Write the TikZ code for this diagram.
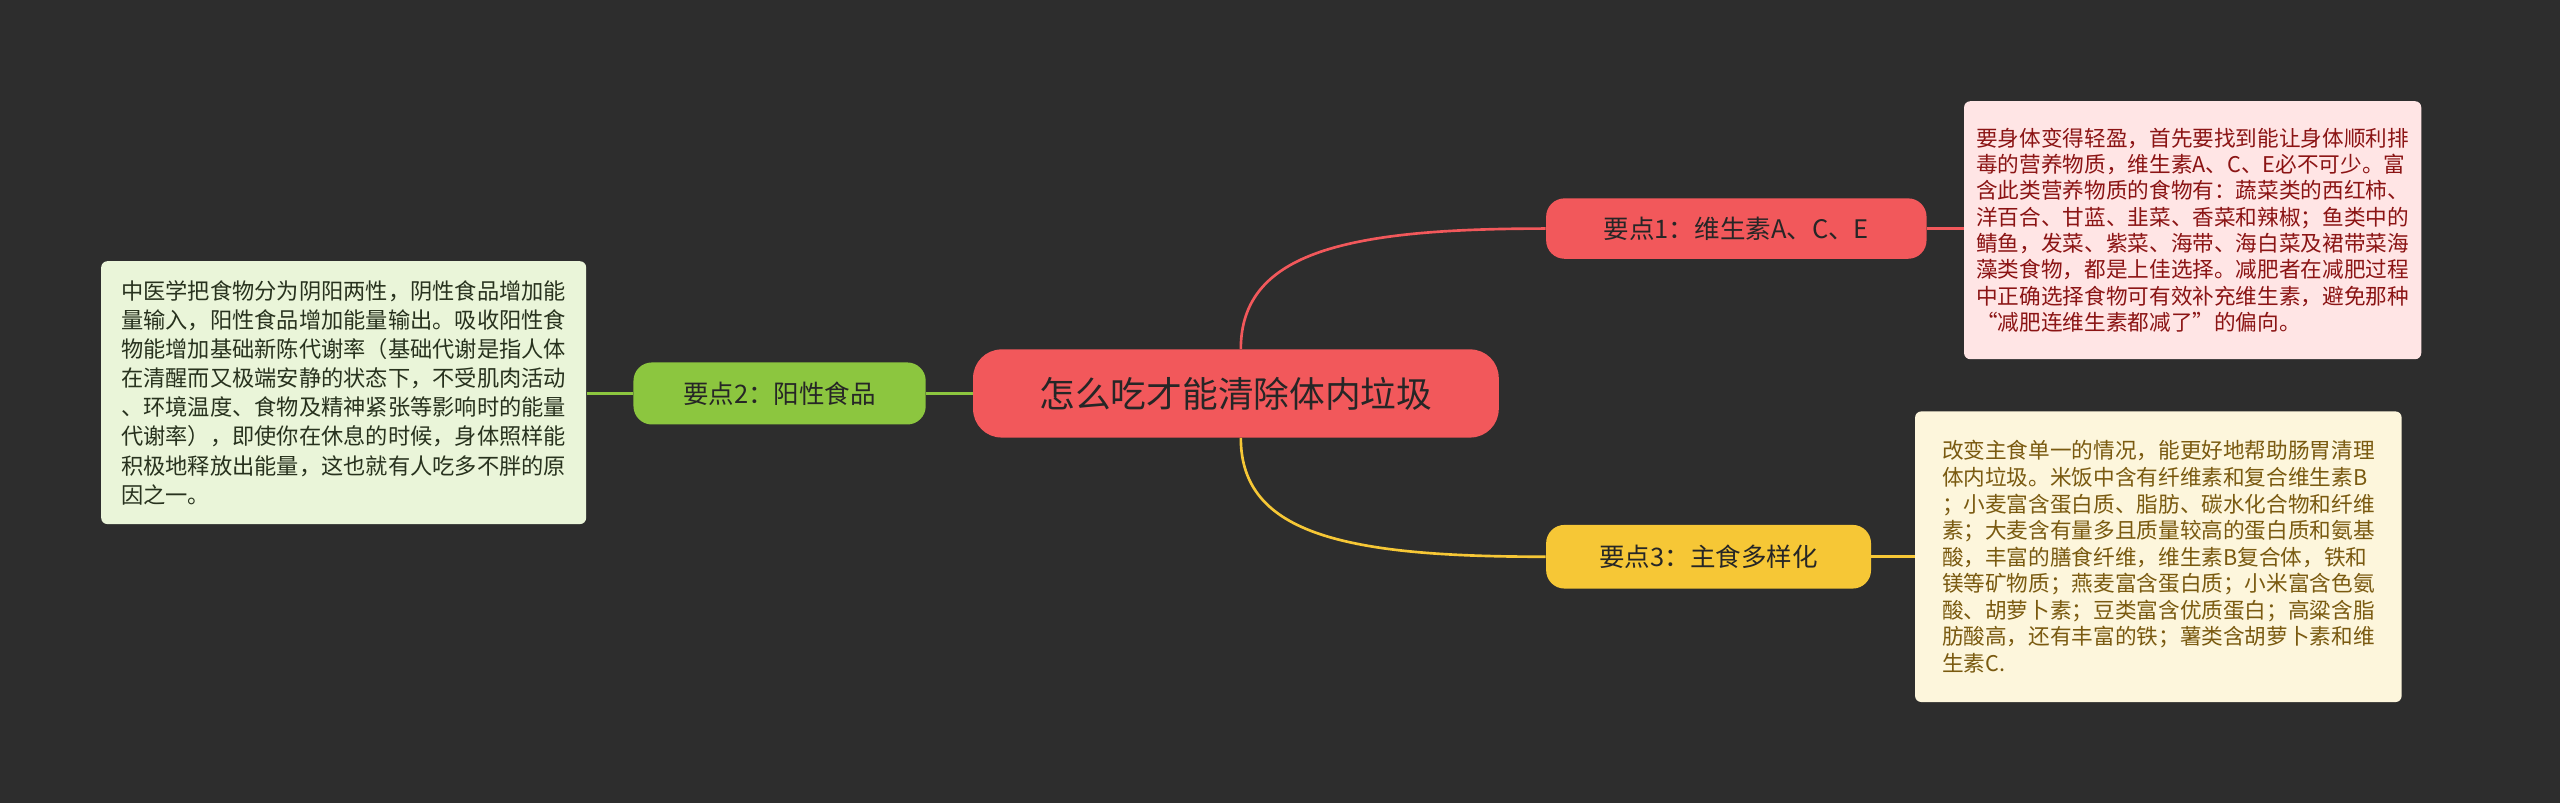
\documentclass[tikz,border=0pt]{standalone}
\usepackage{fontspec}
\setmainfont{Noto Sans CJK SC}
\begin{document}
\begin{tikzpicture}[x=0.8pt,y=-0.8pt,
  pill/.style={rounded corners=9pt,inner sep=0pt,text=black!85},
  desc/.style={rounded corners=3pt,align=left,inner xsep=6pt,inner ysep=6pt,draw=none},
  ]
\definecolor{bg}{HTML}{2D2D2D}
\definecolor{cred}{HTML}{F2585B}
\definecolor{cgreen}{HTML}{8CC63F}
\definecolor{cyel}{HTML}{F6C736}
\fill[bg] (0,0) rectangle (1568,492);
\useasboundingbox (0,0) rectangle (1568,492);
\node[pill,fill=cred,minimum width=322*0.8pt,minimum height=54*0.8pt,rounded corners=14pt,font=\fontsize{17.5}{20}\selectfont] (c) at (757,241) {怎么吃才能清除体内垃圾};
\node[pill,fill=cred,minimum width=233*0.8pt,minimum height=37*0.8pt,font=\fontsize{12.5}{15}\selectfont] (p1) at (1063.5,140) {要点1：维生素A、C、E};
\node[pill,fill=cgreen,minimum width=179*0.8pt,minimum height=38*0.8pt,font=\fontsize{12.5}{15}\selectfont] (p2) at (477.5,241) {要点2：阳性食品};
\node[pill,fill=cyel,minimum width=199*0.8pt,minimum height=39*0.8pt,font=\fontsize{12.5}{15}\selectfont] (p3) at (1046.5,341) {要点3：主食多样化};
\node[desc,fill=red!10!white,text={rgb,255:red,139;green,20;blue,20},font=\fontsize{10.6}{12.9}\selectfont,minimum width=270*0.8pt,minimum height=158*0.8pt] (d1) at (1343,141) {要身体变得轻盈，首先要找到能让身体顺利排\\毒的营养物质，维生素A、C、E必不可少。富\\含此类营养物质的食物有：蔬菜类的西红柿、\\洋百合、甘蓝、韭菜、香菜和辣椒；鱼类中的\\鲭鱼，发菜、紫菜、海带、海白菜及裙带菜海\\藻类食物，都是上佳选择。减肥者在减肥过程\\中正确选择食物可有效补充维生素，避免那种\\“减肥连维生素都减了”的偏向。};
\node[desc,fill={rgb,255:red,253;green,246;blue,220},text={rgb,255:red,122;green,90;blue,16},font=\fontsize{10.6}{13}\selectfont,minimum width=298*0.8pt,minimum height=178*0.8pt] (d3) at (1322,341) {改变主食单一的情况，能更好地帮助肠胃清理\\体内垃圾。米饭中含有纤维素和复合维生素B\\；小麦富含蛋白质、脂肪、碳水化合物和纤维\\素；大麦含有量多且质量较高的蛋白质和氨基\\酸，丰富的膳食纤维，维生素B复合体，铁和\\镁等矿物质；燕麦富含蛋白质；小米富含色氨\\酸、胡萝卜素；豆类富含优质蛋白；高粱含脂\\肪酸高，还有丰富的铁；薯类含胡萝卜素和维\\生素C.};
\node[desc,fill={rgb,255:red,234;green,245;blue,217},text={rgb,255:red,40;green,50;blue,30},font=\fontsize{10.9}{14.3}\selectfont,minimum width=297*0.8pt,minimum height=161*0.8pt] (d2) at (210.5,240.5) {中医学把食物分为阴阳两性，阴性食品增加能\\量输入，阳性食品增加能量输出。吸收阳性食\\物能增加基础新陈代谢率（基础代谢是指人体\\在清醒而又极端安静的状态下，不受肌肉活动\\、环境温度、食物及精神紧张等影响时的能量\\代谢率），即使你在休息的时候，身体照样能\\积极地释放出能量，这也就有人吃多不胖的原\\因之一。};
\draw[cred,line width=1.3pt] (c.north) ++(3,0) .. controls +(0,-60) and +(-120,0) .. (p1.west);
\draw[cyel,line width=1.3pt] (c.south) ++(3,0) .. controls +(0,60) and +(-120,0) .. (p3.west);
\draw[cgreen,line width=1.3pt] (c.west) -- (p2.east);
\draw[cred,line width=1.3pt] (p1.east) -- (p1.east -| d1.west);
\draw[cyel,line width=1.3pt] (p3.east) -- (p3.east -| d3.west);
\draw[cgreen,line width=1.3pt] (p2.west) -- (p2.west -| d2.east);
\end{tikzpicture}
\end{document}
